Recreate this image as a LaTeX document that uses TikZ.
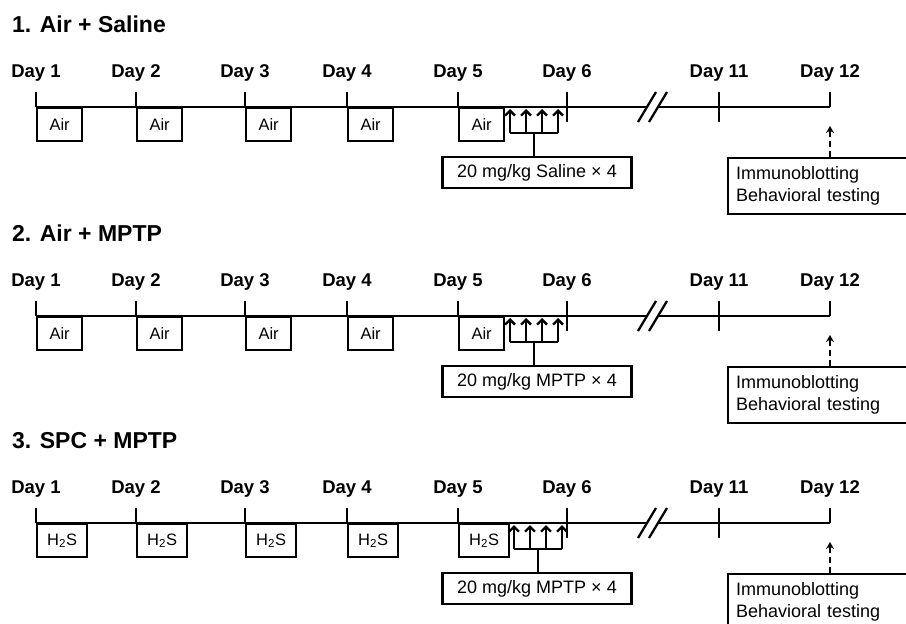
\documentclass[tikz,border=0pt]{standalone}
\usepackage{fontspec}
\setmainfont{Liberation Sans}
\usetikzlibrary{arrows.meta,positioning}
\tikzset{
  tl/.style={line width=2.3pt},
  paneltitle/.style={anchor=base west,inner sep=0pt,font=\fontsize{23}{26}\selectfont\bfseries},
  daylabel/.style={anchor=base,inner sep=0pt,font=\fontsize{18.5}{20}\selectfont\bfseries},
  trtbox/.style={draw,line width=2.3pt,anchor=north west,minimum height=33pt,inner sep=0pt,
    font=\fontsize{16.5}{18}\selectfont},
  drugbox/.style={draw,line width=2.3pt,minimum width=189pt,minimum height=31pt,inner sep=0pt,
    font=\fontsize{18}{20}\selectfont},
  resbox/.style={draw,line width=2.3pt,anchor=north west,text width=185pt,inner xsep=8pt,
    inner ysep=0pt,minimum height=56pt,align=left,font=\fontsize{18}{22}\selectfont},
  inj/.style={line width=2.3pt,-{Straight Barb[length=5pt,width=10pt]}},
  probe/.style={line width=2.3pt,dash pattern=on 6pt off 4pt,-{Stealth[length=7pt,width=8pt]}}
}

\begin{document}
\begin{tikzpicture}[x=1pt,y=-1pt]
  \useasboundingbox (0,0) rectangle (906,624);
  \clip (0,0) rectangle (906,624);
  \foreach \p/\ty/\ttl/\trt/\tw/\drug/\ax in
    {1/107/{1. Air + Saline}/Air/45/Saline/510,
     2/316/{2. Air + MPTP}/Air/45/MPTP/510,
     3/523/{3. SPC + MPTP}/{H\textsubscript{2}S}/50/MPTP/514}{
    \node[paneltitle] (title\p) at (12,\ty-75) {\ttl};
    % days on the time line
    \foreach \d/\dx in {1/36,2/136,3/245,4/347,5/458,6/567,11/719,12/830}{
      \coordinate (d\d p\p) at (\dx,\ty);
      \draw[tl] (\dx,\ty-15) -- (d\d p\p);
      \node[daylabel] (lab\d p\p) at (\dx,\ty-30) {Day \d};
    }
    \draw[tl] (d6p\p) -- ++(0,15);
    \draw[tl] (d11p\p) -- ++(0,15);
    \coordinate (brkL\p) at (647,\ty);
    \coordinate (brkR\p) at (658,\ty);
    \draw[tl] (d1p\p) -- (brkL\p);
    \draw[tl] (brkR\p) -- (d12p\p);
    \draw[tl] (brkL\p) ++(-9,15) -- ++(18,-30);
    \draw[tl] (brkR\p) ++(-9,15) -- ++(18,-30);
    % exposure boxes
    \foreach \d in {1,...,5}
      \node[trtbox,minimum width=\tw] (t\d p\p) at (d\d p\p) {\trt};
    % injections
    \foreach \k in {0,...,3}{
      \coordinate (a\k p\p) at (\ax+16*\k,\ty+26);
      \coordinate (h\k p\p) at (\ax+16*\k,\ty+2);
      \draw[inj] (a\k p\p) -- (h\k p\p);
    }
    \draw[tl] (a0p\p) -- (a3p\p);
    \coordinate (bar\p) at (\ax+24,\ty+26);
    \node[drugbox] (drug\p) at (537,\ty+65.5) {20 mg/kg \drug{} × 4};
    \draw[tl] (bar\p) -- (bar\p |- drug\p.north);
    % read-out
    \node[resbox] (res\p) at (727,\ty+50) {Immunoblotting\\Behavioral testing};
    \coordinate (tip\p) at (830,\ty+19);
    \draw[probe] (res\p.north -| tip\p) -- (tip\p);
  }
\end{tikzpicture}
\end{document}
